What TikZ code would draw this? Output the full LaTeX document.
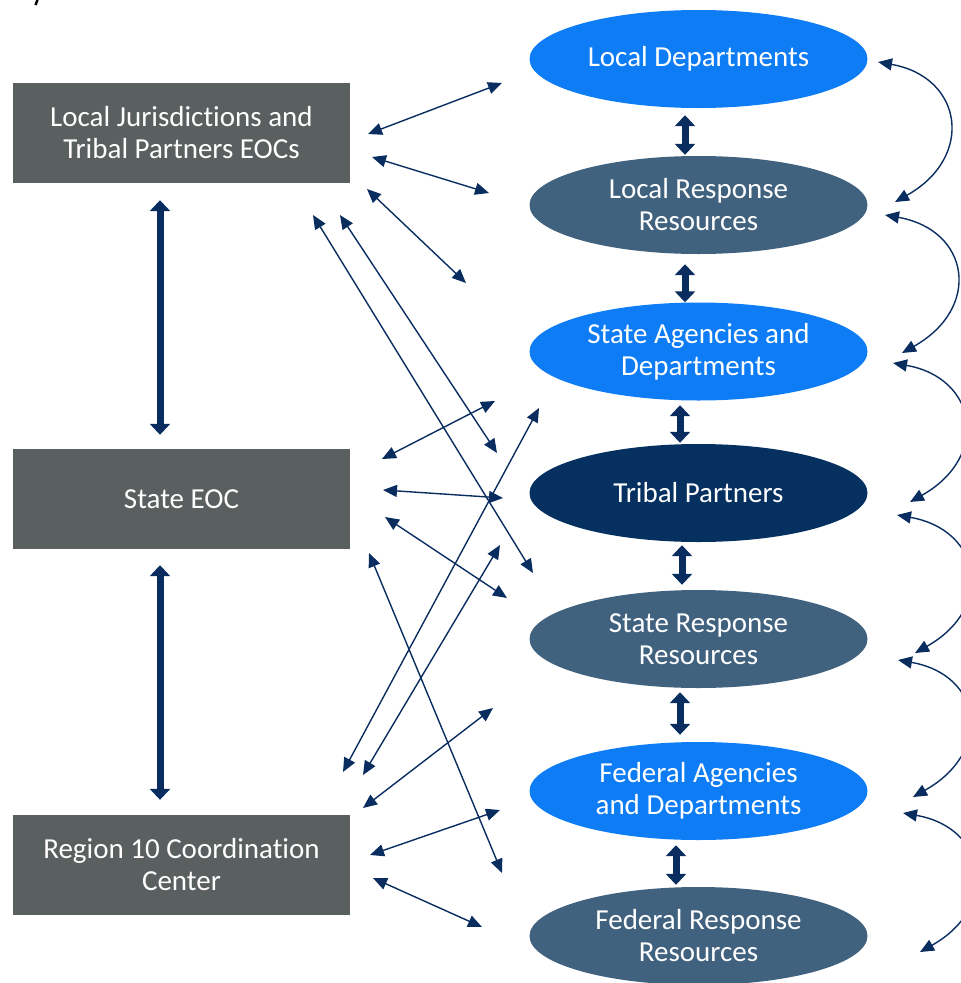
\documentclass[tikz,border=0pt]{standalone}
\usepackage{fontspec}
\setmainfont{Carlito}[Ligatures=NoCommon]
\usetikzlibrary{arrows.meta,shapes.geometric,calc}

\definecolor{eocgray}{HTML}{5A5F5F}
\definecolor{deptblue}{HTML}{0E7CF4}
\definecolor{resslate}{HTML}{41627F}
\definecolor{tribnavy}{HTML}{05305F}
\definecolor{linknavy}{HTML}{0A2D60}

\tikzstyle{eoc}=[rectangle,fill=eocgray,text=white,align=center,minimum width=337,minimum height=100,inner sep=0,font=\fontsize{29}{32}\selectfont]
\tikzstyle{res}=[ellipse,text=white,align=center,minimum width=338,minimum height=98,inner sep=0,font=\fontsize{29}{32}\selectfont]
\tikzstyle{link}=[draw=linknavy,line width=1.4,{Triangle[length=14,width=12]}-{Triangle[length=14,width=12]},color=linknavy]
\tikzstyle{bigarrow}=[draw=linknavy,line width=7,{Triangle[length=11,width=20]}-{Triangle[length=11,width=20]},color=linknavy]

\begin{document}
\begin{tikzpicture}[x=1pt,y=-1pt]
	\useasboundingbox (0,0) rectangle (961,983);
	\draw[line width=2.5] (37.5,0) -- (35.5,5);
	% EOCs on the left
	\node[eoc] (lj) at (181.5,133) {Local Jurisdictions and\\Tribal Partners EOCs};
	\node[eoc] (seoc) at (181.5,499) {State EOC};
	\node[eoc] (rcc) at (181.5,865) {Region 10 Coordination\\Center};
	% departments and resources on the right
	\node[res,fill=deptblue] (ld) at (698.5,59) {Local Departments};
	\node[res,fill=resslate] (lr) at (698.5,205) {Local Response\\Resources};
	\node[res,fill=deptblue] (sa) at (698.5,351.5) {State Agencies and\\Departments};
	\node[res,fill=tribnavy] (tp) at (698.5,493) {Tribal Partners};
	\node[res,fill=resslate] (sr) at (698.5,639) {State Response\\Resources};
	\node[res,fill=deptblue] (fa) at (698.5,791) {Federal Agencies\\and Departments};
	\node[res,fill=resslate] (fr) at (698.5,936) {Federal Response\\Resources};
	% thick arrows
	\draw[bigarrow] ($(lj.south)+(-21.5,17)$) -- ($(seoc.north)+(-21.5,-14)$);
	\draw[bigarrow] ($(seoc.south)+(-21.5,16)$) -- ($(rcc.north)+(-21.5,-15)$);
	\foreach \a/\b/\dx/\ya/\yb in {ld/lr/-13.5/7/-1,lr/sa/-13.5/10/0,sa/tp/-18.5/4.5/-1,tp/sr/-16.5/3/-5,sr/fa/-18.5/4/-7,fa/fr/-22.5/5/-2}
		\draw[bigarrow] ($(\a.south)+(\dx,\ya)$) -- ($(\b.north)+(\dx,\yb)$);
	% thin links
	\foreach \xa/\ya/\xb/\yb [count=\i] in {368/134/502/83,372/157/489/193,367/189/466/283,313/215/533/573,340/215/497/453,382/459/495/401,383/490/503/498,385/517/507/598,343/772/539/408,363/775/500/545,369/553/502/873,363/808/493/708,370/855/500/810,373/878/482/927} {
		\coordinate (p\i) at (\xa,\ya);
		\coordinate (q\i) at (\xb,\yb);
		\draw[link] (p\i) -- (q\i);
	}
	% curved links on the right
	\foreach \xa/\ya/\xb/\yb [count=\i] in {878/62/895/202,885/215/902/353,893/363/910/502,897/515/915/653,898/660/913/797,903/813/920/952} {
		\coordinate (c\i) at (\xa,\ya);
		\coordinate (d\i) at (\xb,\yb);
		\draw[link] (c\i) .. controls +(85,15) and +(80,-45) .. (d\i);
	}
\end{tikzpicture}
\end{document}
